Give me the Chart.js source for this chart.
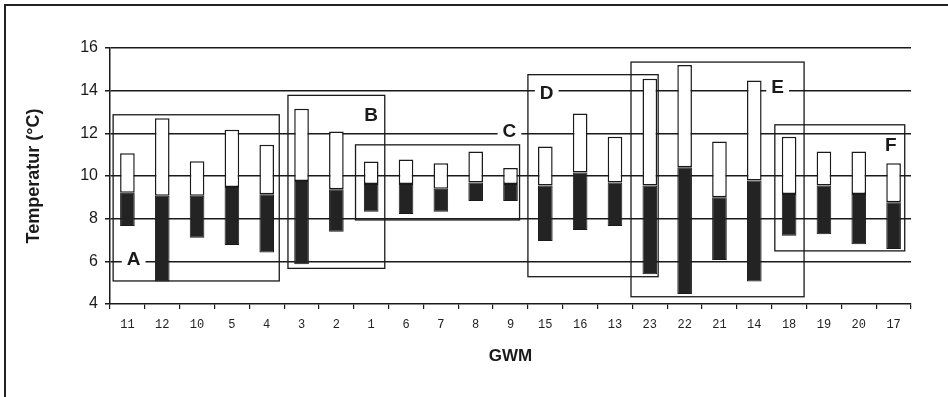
<!DOCTYPE html>
<html>
<head>
<meta charset="utf-8">
<script src="https://cdn.jsdelivr.net/npm/chart.js@4"></script>
<style>
  html, body { margin: 0; padding: 0; background: #fff; }
  #wrap { position: relative; width: 948px; height: 397px; }
</style>
</head>
<body>
<div id="wrap"><canvas id="chart" width="948" height="397"></canvas></div>
<script>
// --- Data ---
const GWM = ["11", "12", "10", "5", "4", "3", "2", "1", "6", "7", "8", "9",
	"15", "16", "13", "23", "22", "21", "14", "18", "19", "20", "17"];
const T_MIN = [7.66, 5.05, 7.1, 6.77, 6.41, 5.86, 7.39, 8.33, 8.22, 8.33, 8.83, 8.83,
	6.95, 7.47, 7.66, 5.39, 4.47, 6.06, 5.05, 7.2, 7.27, 6.8, 6.58];
const T_MED = [9.22, 9.08, 9.08, 9.49, 9.15, 9.77, 9.38, 9.62, 9.62, 9.4, 9.69, 9.62,
	9.55, 10.16, 9.69, 9.55, 10.41, 9.0, 9.79, 9.16, 9.55, 9.16, 8.77];
const T_MAX = [11.07, 12.71, 10.69, 12.17, 11.46, 13.15, 12.09, 10.68, 10.77, 10.6, 11.15, 10.38,
	11.38, 12.93, 11.84, 14.56, 15.2, 11.62, 14.48, 11.84, 11.15, 11.15, 10.6];
const Y_TICKS = [4, 6, 8, 10, 12, 14, 16];

// Gruppen A-F: Ausdehnung in Kategorie-Index / °C, Buchstabe an (lx, ly)
const GROUPS = [
	{ name: "A", x0: -0.41, x1: 4.36, y0: 5.08, y1: 12.87, lx: 0.18, ly: 6.1 },
	{ name: "B", x0: 4.61, x1: 7.39, y0: 5.67, y1: 13.78, lx: 7.0, ly: 12.87 },
	{ name: "C", x0: 6.55, x1: 11.26, y0: 7.94, y1: 11.46, lx: 10.97, ly: 12.1 },
	{ name: "D", x0: 11.5, x1: 15.24, y0: 5.28, y1: 14.75, lx: 12.04, ly: 13.9 },
	{ name: "E", x0: 14.46, x1: 19.43, y0: 4.34, y1: 15.34, lx: 18.67, ly: 14.2 },
	{ name: "F", x0: 18.59, x1: 22.32, y0: 6.49, y1: 12.4, lx: 21.92, ly: 11.46 },
];

const INK = "#1a1a1a";

// Rahmen um das Bild (oben + links)
const framePlugin = {
	id: "frame",
	beforeDraw(chart) {
		const c = chart.ctx;
		c.save();
		c.strokeStyle = "#222";
		c.lineWidth = 2;
		c.beginPath();
		c.moveTo(948, 5);
		c.lineTo(5, 5);
		c.lineTo(5, 397);
		c.stroke();
		c.restore();
	},
};

// Gruppen-Rahmen und Buchstaben
const groupPlugin = {
	id: "groups",
	afterDatasetsDraw(chart) {
		const { ctx: c, scales } = chart;
		const x = scales.x, y = scales.y;
		c.save();
		c.strokeStyle = INK;
		c.lineWidth = 1.3;
		GROUPS.forEach((g) => {
			const px0 = x.getPixelForValue(g.x0);
			const px1 = x.getPixelForValue(g.x1);
			const py0 = y.getPixelForValue(g.y0);
			const py1 = y.getPixelForValue(g.y1);
			c.strokeRect(px0, py1, px1 - px0, py0 - py1);
		});
		c.font = "bold 19px 'Liberation Sans', Arial, sans-serif";
		c.textAlign = "center";
		c.textBaseline = "middle";
		GROUPS.forEach((g) => {
			const lx = x.getPixelForValue(g.lx);
			const ly = y.getPixelForValue(g.ly);
			const w = c.measureText(g.name).width;
			c.fillStyle = "#fff";
			c.fillRect(lx - w / 2 - 5, ly - 8, w + 10, 16);
			c.fillStyle = INK;
			c.fillText(g.name, lx, ly + 1);
		});
		c.restore();
	},
};

const ctx = document.getElementById("chart").getContext("2d");
new Chart(ctx, {
	type: "bar",
	data: {
		labels: GWM,
		datasets: [
			{
				label: "unten",
				data: T_MIN.map((v, i) => [v, T_MED[i]]),
				backgroundColor: "#232323",
				borderColor: INK,
				borderWidth: 1,
				borderSkipped: false,
			},
			{
				label: "oben",
				data: T_MAX.map((v, i) => [T_MED[i], v]),
				backgroundColor: "#fff",
				borderColor: INK,
				borderWidth: 1.5,
				borderSkipped: false,
			},
		],
	},
	options: {
		responsive: false,
		animation: false,
		events: [],
		layout: { padding: { left: 16, top: 48, right: 37, bottom: 0 } },
		datasets: {
			bar: { grouped: false, barPercentage: 0.42, categoryPercentage: 1 },
		},
		plugins: {
			legend: { display: false },
			tooltip: { enabled: false },
		},
		scales: {
			x: {
				offset: true,
				grid: {
					offset: true,
					drawOnChartArea: false,
					color: INK,
					tickLength: 5,
					lineWidth: 1.2,
				},
				border: { display: true, color: INK, width: 1.5 },
				ticks: {
					color: "#222",
					padding: 9,
					maxRotation: 0,
					autoSkip: false,
					font: { family: "'Liberation Mono', 'DejaVu Sans Mono', monospace", size: 12 },
				},
				title: {
					display: true,
					text: "GWM",
					color: INK,
					padding: { top: 0, bottom: 30 },
					font: { family: "'Liberation Sans', Arial, sans-serif", size: 17, weight: "bold" },
				},
				afterFit(scale) {
					scale.height = 93;
				},
			},
			y: {
				min: Y_TICKS[0],
				max: Y_TICKS[Y_TICKS.length - 1],
				ticks: {
					stepSize: 1,
					padding: 7,
					color: INK,
					font: { family: "'Liberation Sans', Arial, sans-serif", size: 16 },
					callback: (v) => (Y_TICKS.includes(v) ? v : ""),
				},
				grid: {
					color: (c) =>
						c.tick && Y_TICKS.includes(c.tick.value) && c.tick.value > Y_TICKS[0]
							? INK
							: "rgba(0,0,0,0)",
					tickColor: INK,
					tickLength: 5,
					lineWidth: 1.5,
				},
				border: { display: true, color: INK, width: 1.5 },
				title: {
					display: true,
					text: "Temperatur (°C)",
					color: INK,
					padding: { top: 7, bottom: 0 },
					font: { family: "'Liberation Sans', Arial, sans-serif", size: 18, weight: "bold" },
				},
				afterFit(scale) {
					scale.width = 94;
				},
			},
		},
	},
	plugins: [framePlugin, groupPlugin],
});
</script>
</body>
</html>
